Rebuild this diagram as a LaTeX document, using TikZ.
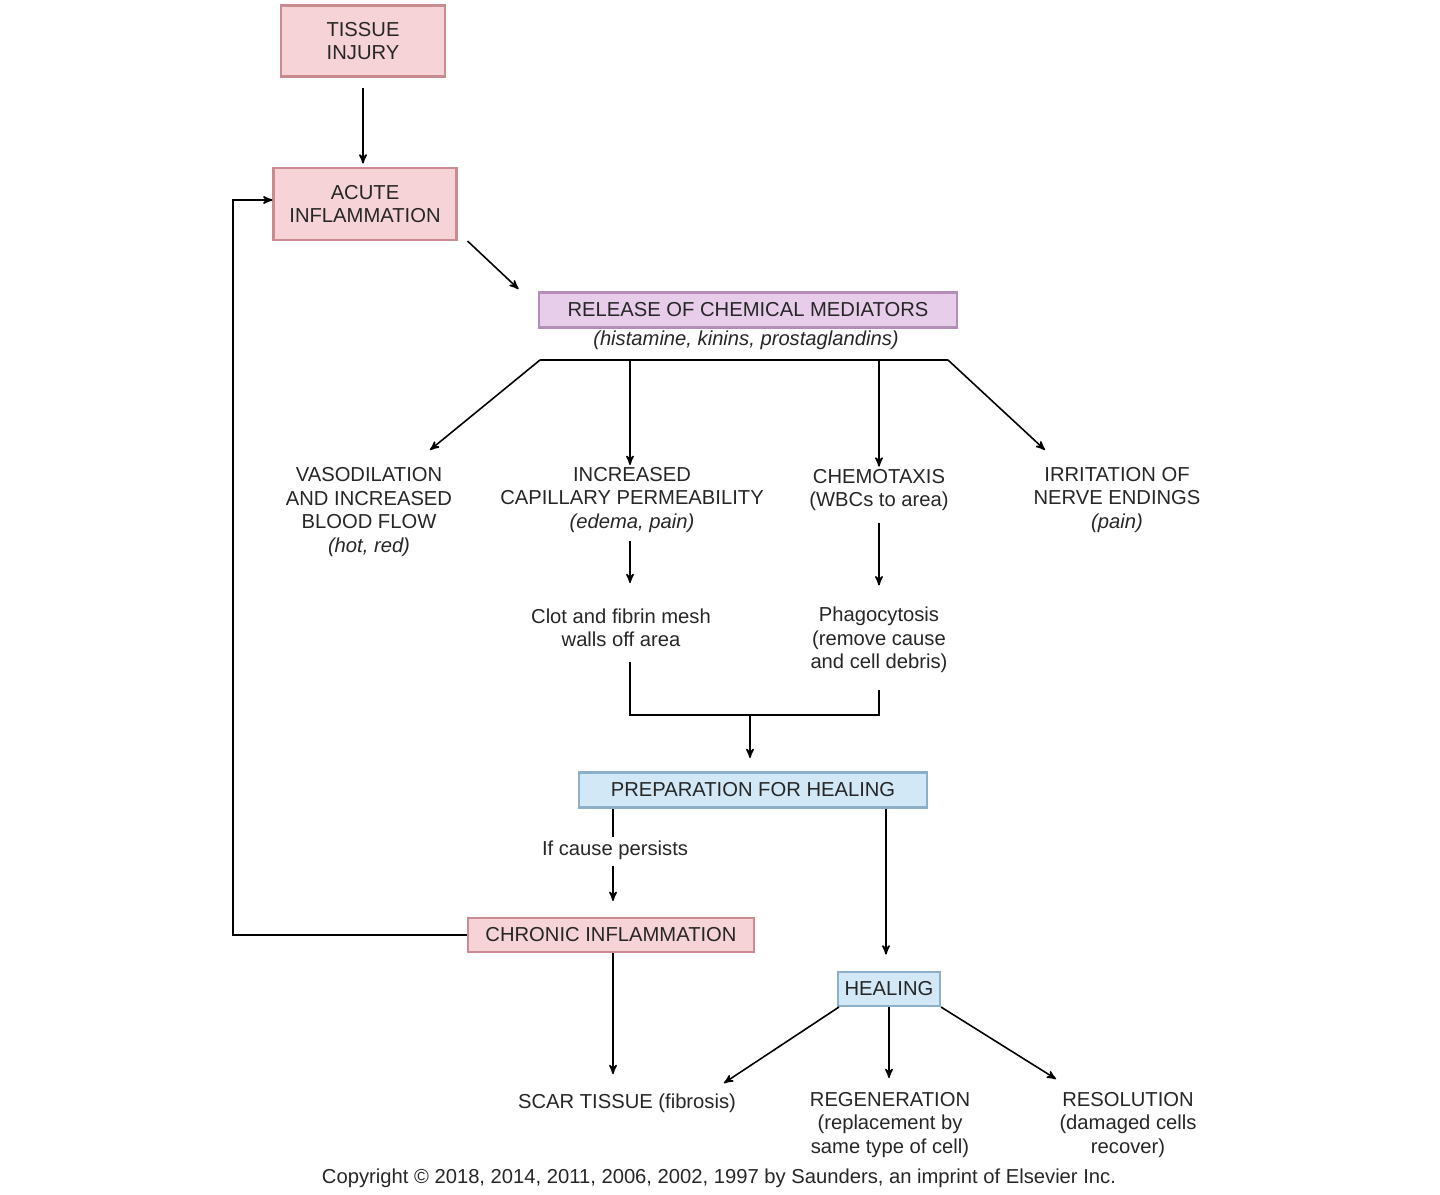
\documentclass[tikz,border=0pt]{standalone}
\usepackage{fontspec}
\setmainfont{Liberation Sans}
\usetikzlibrary{arrows}
\definecolor{pinkbox}{HTML}{F6D3D6}
\definecolor{pinkline}{HTML}{C98A90}
\definecolor{violetbox}{HTML}{E8CDEB}
\definecolor{violetline}{HTML}{B48DB8}
\definecolor{bluebox}{HTML}{D2E8F6}
\definecolor{blueline}{HTML}{8BB0C8}
\begin{document}
\begin{tikzpicture}[x=0.02cm,y=-0.02cm,>=stealth',line width=0.9pt,
  every node/.style={font=\fontsize{11.5}{13.3}\selectfont,align=center,text=black!85},
  pinknode/.style={draw=pinkline,fill=pinkbox,line width=1.2pt,inner sep=0pt},
  violetnode/.style={draw=violetline,fill=violetbox,line width=1.2pt,inner sep=0pt},
  bluenode/.style={draw=blueline,fill=bluebox,line width=1.2pt,inner sep=0pt},
  txt/.style={inner sep=1pt}]
\useasboundingbox (0,0) rectangle (1440,1195);

\node[pinknode,minimum width=164*0.02cm,minimum height=71*0.02cm] (tissue) at (363,41) {TISSUE\\INJURY};
\node[pinknode,minimum width=183*0.02cm,minimum height=72*0.02cm] (acute) at (365,204) {ACUTE\\INFLAMMATION};
\node[violetnode,minimum width=418*0.02cm,minimum height=35*0.02cm] (release) at (748,310) {RELEASE OF CHEMICAL MEDIATORS};
\node[txt] (mediators) at (746,340) {\itshape (histamine, kinins, prostaglandins)};

\coordinate (barL) at (540,360);
\coordinate (barA) at (630,360);
\coordinate (barB) at (879,360);
\coordinate (barR) at (948,360);

\node[txt] (vaso) at (369,512) {VASODILATION\\AND INCREASED\\BLOOD FLOW\\\itshape (hot, red)};
\node[txt] (perm) at (632,500) {INCREASED\\CAPILLARY PERMEABILITY\\\itshape (edema, pain)};
\node[txt] (chemo) at (879,490) {CHEMOTAXIS\\(WBCs to area)};
\node[txt] (nerve) at (1117,500) {IRRITATION OF\\NERVE ENDINGS\\\itshape (pain)};
\node[txt] (clot) at (621,628) {Clot and fibrin mesh\\walls off area};
\node[txt] (phago) at (879,640) {Phagocytosis\\(remove cause\\and cell debris)};

\node[bluenode,minimum width=348*0.02cm,minimum height=35*0.02cm] (prep) at (753,790) {PREPARATION FOR HEALING};
\node[txt] (persist) at (615,850) {If cause persists};
\node[pinknode,minimum width=286*0.02cm,minimum height=34*0.02cm] (chronic) at (611,935) {CHRONIC INFLAMMATION};
\node[bluenode,minimum width=102*0.02cm,minimum height=34*0.02cm] (healing) at (889,989) {HEALING};

\node[txt] (scar) at (627,1103) {SCAR TISSUE (fibrosis)};
\node[txt] (regen) at (890,1125) {REGENERATION\\(replacement by\\same type of cell)};
\node[txt] (resol) at (1128,1125) {RESOLUTION\\(damaged cells\\recover)};
\node[txt] (copy) at (719,1178) {Copyright © 2018, 2014, 2011, 2006, 2002, 1997 by Saunders, an imprint of Elsevier Inc.};

\coordinate (joinA) at (630,715);
\coordinate (joinB) at (879,715);
\coordinate (joinM) at (750,715);
\coordinate (loopB) at (233,935);
\coordinate (loopT) at (233,200);
\coordinate (persistTop) at (613,837);

\draw[->] (tissue.south) ++(0,10) -- ++(0,76);
\draw[->] (acute.south east) ++(10,0) -- ++(51,48);
\draw (barL) -- (barR);
\draw[->] (barL) -- ++(-110,90);
\draw[->] (barA) -- (perm.north -| barA);
\draw[->] (barB) -- (chemo.north -| barB);
\draw[->] (barR) -- ++(97,90);
\draw[->] (perm.south -| barA) ++(0,6) -- ++(0,42);
\draw[->] (chemo.south -| barB) ++(0,10) -- ++(0,62);
\draw (clot.south -| joinA) ++(0,12) -- (joinA) -- (joinB) -- ++(0,-25);
\draw[->] (joinM) -- ++(0,43);
\draw (prep.south -| persistTop) -- (persistTop);
\draw[->] (persist.south -| persistTop) ++(0,4) -- ++(0,35);
\draw[->] (chronic.west) -- (loopB) -- (loopT) -- (acute.west |- loopT);
\draw[->] (chronic.south -| persistTop) -- ++(0,121);
\draw[->] (prep.south -| healing.north) ++(-3,0) -- ++(0,146);
\draw[->] (healing.south west) ++(2,0) -- ++(-115,76);
\draw[->] (healing.south) -- ++(0,71);
\draw[->] (healing.south east) -- ++(115,72);
\end{tikzpicture}
\end{document}
